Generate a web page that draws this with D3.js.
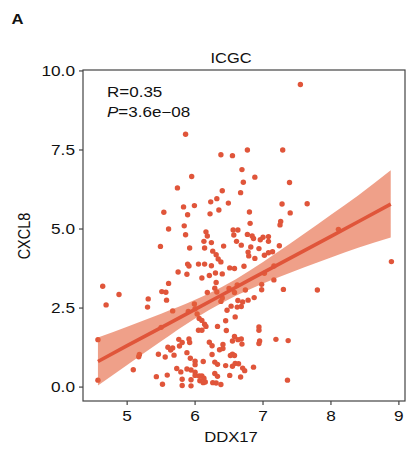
<!DOCTYPE html>
<html><head><meta charset="utf-8">
<script src="https://cdn.jsdelivr.net/npm/d3@7"></script>
<style>body{margin:0;background:#fff}svg{display:block}text{font-family:"Liberation Sans",Arial,sans-serif;fill:#111}</style>
</head><body><div id="c"></div>
<script>
const panelLabel = "A";
const title = "ICGC";
const xLabel = "DDX17";
const yLabel = "CXCL8";
const statR = "R=0.35";
const statP = "=3.6e\u221208";
const xTicks = [5, 6, 7, 8, 9];
const yTicks = [0, 2.5, 5, 7.5, 10];
const ddx17 = [5.86,6.38,6.55,6.77,7.29,6.69,5.95,6.71,6.88,7.39,5.74,6.40,6.67,6.32,6.23,6.49,5.99,5.83,6.35,5.54,5.89,6.22,6.80,5.84,5.61,6.81,7.26,7.25,7.28,7.65,7.40,7.55,6.56,6.63,5.86,6.16,6.18,6.57,6.77,6.84,6.86,5.49,5.92,6.13,6.24,6.14,6.42,6.61,6.68,6.26,6.31,6.34,6.38,6.78,6.79,5.89,5.91,6.05,6.14,6.24,6.51,6.58,6.72,5.75,5.88,6.21,6.10,6.30,6.40,4.64,5.61,6.31,6.29,6.32,5.51,5.57,4.88,6.18,6.58,6.74,5.31,5.58,6.40,6.38,6.63,6.70,6.78,6.87,4.69,5.30,5.99,6.00,6.53,6.62,6.68,6.47,5.67,5.90,6.03,6.06,6.10,6.45,6.59,6.14,6.16,6.05,6.10,6.33,6.46,5.50,6.94,6.94,7.02,7.16,6.98,6.98,7.30,7.80,8.89,8.11,6.62,6.50,7.16,6.88,7.02,7.08,7.14,7.24,6.94,6.82,7.00,7.08,7.08,6.96,4.57,5.76,5.91,5.81,5.92,6.58,6.63,6.68,6.55,6.69,6.95,6.94,7.19,7.37,5.60,5.67,5.64,5.77,6.21,6.25,6.41,6.41,6.36,5.46,5.56,5.69,5.88,6.25,5.18,5.17,6.55,6.58,6.52,5.93,6.00,6.00,6.12,6.29,6.33,6.45,6.55,6.59,6.64,6.70,6.73,6.86,5.73,5.88,5.94,5.79,6.00,5.09,4.57,5.43,5.59,5.81,5.94,6.00,6.06,6.10,6.13,6.29,6.33,6.51,6.67,6.07,6.12,6.15,5.81,5.94,5.52,6.26,6.31,6.38,7.36];
const cxcl8 = [8.00,7.35,7.32,7.50,7.50,6.88,6.66,6.48,6.64,6.47,6.30,6.21,6.15,5.96,5.86,5.82,5.74,5.70,5.60,5.53,5.45,5.48,5.54,5.10,5.00,5.18,5.24,5.13,5.79,5.80,5.51,9.57,4.97,4.97,4.82,4.91,4.78,4.81,4.83,4.78,4.70,4.45,4.40,4.61,4.57,4.40,4.46,4.61,4.49,4.30,4.19,4.05,3.96,4.27,4.15,3.89,3.83,3.89,3.89,3.84,3.77,3.75,3.82,3.64,3.57,3.53,3.45,3.61,3.58,3.19,3.28,3.31,3.13,3.01,3.02,3.00,2.93,2.99,2.99,3.07,2.79,2.75,2.82,2.71,2.74,2.69,2.75,2.83,2.60,2.53,2.63,2.48,2.56,2.53,2.55,2.43,2.41,2.39,2.31,2.17,2.11,2.10,2.22,1.99,1.92,1.80,1.80,1.92,1.79,1.89,1.90,1.80,3.60,3.39,3.25,3.08,3.09,3.07,3.97,4.99,3.23,3.12,3.83,4.07,4.17,4.25,4.28,4.47,4.38,4.43,4.74,4.76,4.61,4.66,1.50,1.51,1.52,1.41,1.41,1.60,1.50,1.52,1.46,1.36,1.46,1.38,1.51,1.47,1.26,1.24,1.17,1.30,1.42,1.31,1.35,1.22,1.18,1.04,0.95,1.01,1.09,1.03,1.03,0.96,1.04,1.00,1.00,0.91,0.82,0.71,0.81,0.79,0.72,0.68,0.66,0.75,0.74,0.60,0.52,0.63,0.59,0.57,0.54,0.48,0.47,0.55,0.22,0.33,0.38,0.25,0.23,0.37,0.35,0.35,0.28,0.43,0.34,0.37,0.32,0.20,0.14,0.16,0.05,0.04,0.09,0.14,0.13,0.08,0.22];
// fitted line and its confidence band
const fitX  = [4.57, 5.0, 5.5, 6.0, 6.4, 6.8, 7.2, 7.6, 8.0, 8.4, 8.88];
const fitY  = [0.81, 1.31, 1.88, 2.46, 2.92, 3.39, 3.85, 4.31, 4.77, 5.23, 5.79];
const fitLo = [0.05, 0.70, 1.45, 2.17, 2.67, 3.09, 3.45, 3.78, 4.10, 4.41, 4.73];
const fitHi = [1.57, 1.91, 2.32, 2.76, 3.17, 3.68, 4.25, 4.84, 5.45, 6.06, 6.86];

const W = 406, H = 453;
const SX = 1.19;
const col = "#E0553A";
const svg = d3.select("#c").append("svg").attr("width", W).attr("height", H);
const x = d3.scaleLinear().domain([4.35, 9.09]).range([83, 405]);
const y = d3.scaleLinear().domain([-0.44, 10.03]).range([401, 70]);

function txt(px, py, s, size, anchor, opts = {}) {
  const g = svg.append("g").attr("transform", `translate(${px},${py}) scale(${SX},1)` + (opts.rot ? " rotate(-90)" : ""));
  const t = g.append("text").attr("text-anchor", anchor).style("font-size", size + "px");
  if (opts.bold) t.style("font-weight", "bold");
  if (typeof s === "string") t.text(s); else s(t);
  return t;
}

// points
const pts = ddx17.map((d, i) => [d, cxcl8[i]]);
svg.append("g").selectAll("circle").data(pts).join("circle")
  .attr("cx", d => x(d[0])).attr("cy", d => y(d[1])).attr("r", 2.7).attr("fill", col);

// regression line + band
const band = fitX.map((v, i) => ({ v, f: fitY[i], lo: fitLo[i], hi: fitHi[i] }));
svg.append("path").datum(band)
  .attr("d", d3.area().curve(d3.curveMonotoneX).x(d => x(d.v)).y0(d => y(d.lo)).y1(d => y(d.hi)))
  .attr("fill", "#E4603A").attr("fill-opacity", 0.6);
svg.append("path").datum(band)
  .attr("d", d3.line().x(d => x(d.v)).y(d => y(d.f)))
  .attr("fill", "none").attr("stroke", col).attr("stroke-width", 3.6);

// frame
svg.append("rect").attr("x", 83).attr("y", 70).attr("width", 322).attr("height", 331)
  .attr("fill", "none").attr("stroke", "#444").attr("stroke-width", 1.2);

// ticks
svg.append("g").selectAll("line").data(yTicks).join("line")
  .attr("x1", 79).attr("x2", 83).attr("y1", d => y(d)).attr("y2", d => y(d))
  .attr("stroke", "#444").attr("stroke-width", 1.2);
svg.append("g").selectAll("line").data(xTicks).join("line")
  .attr("y1", 401).attr("y2", 405).attr("x1", d => x(d)).attr("x2", d => x(d))
  .attr("stroke", "#444").attr("stroke-width", 1.2);
const fy = d3.format(".1f");
yTicks.forEach(t => txt(75, y(t) + 5.2, fy(t), 14.5, "end"));
xTicks.forEach(t => txt(x(t), 421, String(t), 14.5, "middle"));

// labels
txt(11.5, 24, panelLabel, 14, "start", { bold: true });
txt(231, 63, title, 13.8, "middle");
txt(231, 442, xLabel, 14, "middle");
txt(30, 236, yLabel, 14.5, "middle", { rot: true });
txt(107, 96.7, statR, 14.3, "start");
txt(107, 117.3, t => {
  t.append("tspan").style("font-style", "italic").text("P");
  t.append("tspan").text(statP);
}, 14.3, "start");
</script></body></html>
